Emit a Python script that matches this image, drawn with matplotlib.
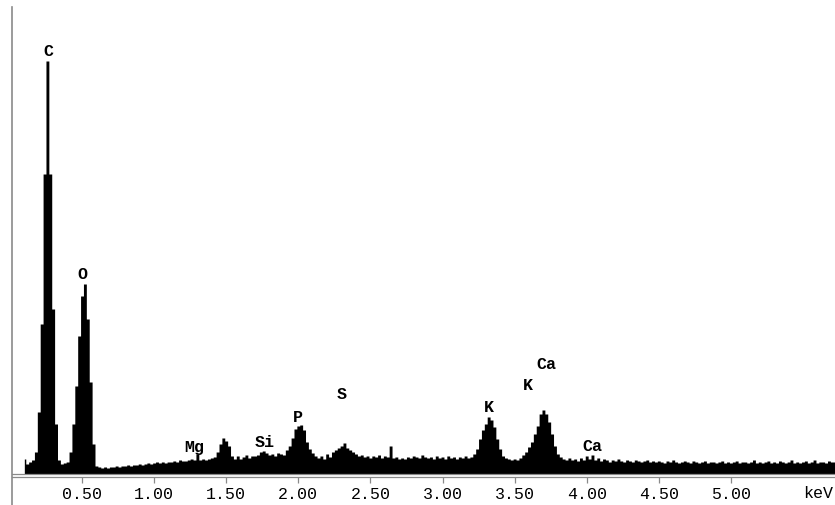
import numpy as np
import matplotlib.pyplot as plt

# EDS spectrum, counts every 0.02 keV starting at 0.10 keV
e_start = 0.10
e_step = 0.02
counts = [
    15, 10, 12, 14, 22, 62, 150, 300, 413, 300,     # 0.10 - 0.28
    165, 50, 14, 10, 11, 12, 22, 50, 88, 138,       # 0.30 - 0.48
    178, 190, 155, 92, 30, 8, 7, 6, 7, 6,           # 0.50 - 0.68
    7, 7, 8, 7, 8, 8, 9, 8, 9, 9,                   # 0.70 - 0.88
    10, 9, 10, 11, 10, 11, 12, 11, 12, 11,          # 0.90 - 1.08
    12, 12, 13, 12, 14, 13, 13, 14, 15, 14,         # 1.10 - 1.28
    20, 14, 15, 14, 15, 16, 17, 22, 30, 36,         # 1.30 - 1.48
    33, 28, 18, 15, 18, 15, 17, 19, 16, 18,         # 1.50 - 1.68
    18, 19, 22, 23, 21, 19, 20, 18, 21, 20,         # 1.70 - 1.88
    19, 24, 28, 36, 45, 48, 49, 44, 32, 25,         # 1.90 - 2.08
    21, 18, 16, 18, 15, 20, 17, 22, 24, 26,         # 2.10 - 2.28
    28, 31, 26, 24, 22, 20, 18, 19, 17, 18,         # 2.30 - 2.48
    16, 18, 17, 19, 16, 18, 17, 28, 16, 17,         # 2.50 - 2.68
    15, 16, 15, 17, 16, 18, 17, 16, 19, 17,         # 2.70 - 2.88
    16, 17, 15, 18, 16, 17, 15, 18, 16, 17,         # 2.90 - 3.08
    15, 17, 16, 18, 16, 17, 20, 25, 35, 44,         # 3.10 - 3.28
    50, 57, 54, 47, 35, 25, 18, 16, 15, 14,         # 3.30 - 3.48
    15, 14, 16, 19, 22, 27, 32, 40, 48, 60,         # 3.50 - 3.68
    64, 60, 52, 40, 28, 20, 17, 15, 14, 16,         # 3.70 - 3.88
    14, 15, 13, 16, 14, 18, 15, 19, 14, 16,         # 3.90 - 4.08
    13, 15, 14, 12, 14, 13, 15, 13, 12, 14,         # 4.10 - 4.28
    13, 12, 14, 13, 12, 13, 14, 12, 13, 12,         # 4.30 - 4.48
    13, 12, 11, 13, 12, 14, 12, 11, 12, 13,         # 4.50 - 4.68
    12, 11, 13, 12, 11, 12, 13, 11, 12, 12,         # 4.70 - 4.88
    11, 12, 13, 11, 12, 11, 12, 13, 11, 12,         # 4.90 - 5.08
    12, 11, 12, 14, 11, 12, 11, 12, 13, 11,         # 5.10 - 5.28
    12, 11, 13, 12, 11, 12, 14, 11, 12, 11,         # 5.30 - 5.48
    12, 13, 11, 12, 14, 11, 12, 12, 11, 13,         # 5.50 - 5.68
    12, 12,                                         # 5.70 - 5.72
]

# peak labels: element, energy (keV), label height (counts)
peak_names = ["C", "O", "Mg", "Si", "P", "S", "K", "K", "Ca", "Ca"]
peak_x = [0.264, 0.50, 1.28, 1.77, 1.998, 2.30, 3.32, 3.59, 3.72, 4.04]
peak_y = [419, 196, 23, 28, 53, 76, 63, 85, 106, 24]

tick_pos = [0.5, 1.0, 1.5, 2.0, 2.5, 3.0, 3.5, 4.0, 4.5, 5.0]
tick_labels = ["0.50", "1.00", "1.50", "2.00", "2.50", "3.00", "3.50", "4.00", "4.50", "5.00"]

energy = e_start + e_step * np.arange(len(counts))

fig = plt.figure(figsize=(8.35, 5.06), dpi=100)
ax = fig.add_axes([11.5 / 835, 0, 1 - 11.5 / 835, 498 / 506])

ax.fill_between(energy, counts, 0, step="mid", color="black", lw=0)
ax.axhline(0, color="#8a8a8a", lw=0.9)

ax.set_xlim(0.011, 5.722)
ax.set_ylim(-31, 467)

ax.spines["top"].set_visible(False)
ax.spines["right"].set_visible(False)
ax.spines["left"].set_color("#8a8a8a")
ax.spines["left"].set_linewidth(1.2)
ax.spines["bottom"].set_position(("data", -3))
ax.spines["bottom"].set_color("#8a8a8a")
ax.spines["bottom"].set_linewidth(0.9)

ax.set_yticks([])
ax.set_xticks(tick_pos)
ax.set_xticklabels(tick_labels, fontfamily="Liberation Mono", fontsize=12)
ax.tick_params(axis="x", direction="out", length=4.5, width=0.9, color="#8a8a8a", pad=2)

for name, x, y in zip(peak_names, peak_x, peak_y):
    ax.text(x, y, name, ha="center", va="baseline", fontfamily="Liberation Mono",
            fontsize=12, fontweight="bold")

fig.text(818 / 835, 1 - 494 / 506, "keV", ha="center", va="center",
         fontfamily="Liberation Mono", fontsize=12)

fig.savefig("out.png", dpi=100)
